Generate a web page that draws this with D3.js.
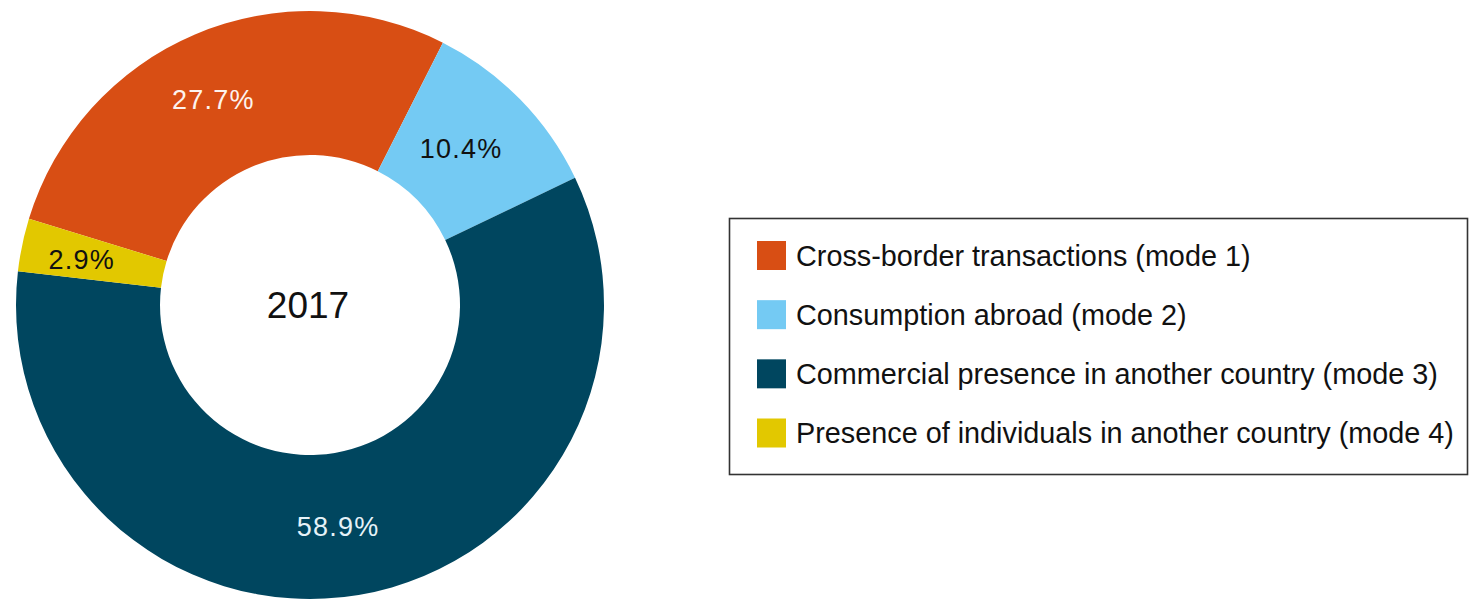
<!DOCTYPE html>
<html>
<head>
<meta charset="utf-8">
<script src="https://cdn.jsdelivr.net/npm/d3@7"></script>
<style>
  html, body { margin: 0; padding: 0; background: #ffffff; }
  svg { display: block; font-family: "Liberation Sans", Arial, Helvetica, sans-serif; }
</style>
</head>
<body>
<svg id="chart" width="1471" height="599"></svg>
<script>
// ---- data ----
const categories = [
  "Cross-border transactions (mode 1)",
  "Consumption abroad (mode 2)",
  "Commercial presence in another country (mode 3)",
  "Presence of individuals in another country (mode 4)"
];
const values = [27.7, 10.4, 58.9, 2.9];
const valueLabels = ["27.7%", "10.4%", "58.9%", "2.9%"];
const colors = ["#D84E14", "#74CAF3", "#00465F", "#E2C800"];
const labelColors = ["#fdf3ee", "#111111", "#e6f2f8", "#111111"];
const centerLabel = "2017";

// ---- layout ----
const svg = d3.select("#chart");
const cx = 310, cy = 305;
const outerR = 294, innerR = 150;
const start = -72.95 * Math.PI / 180;

const pie = d3.pie().sort(null).value(d => d.value)
  .startAngle(start).endAngle(start + 2 * Math.PI);
const arc = d3.arc().innerRadius(innerR).outerRadius(outerR);
const labelArc = d3.arc().innerRadius(224).outerRadius(224);

const data = categories.map((c, i) => ({ name: c, value: values[i], label: valueLabels[i], color: colors[i], lc: labelColors[i] }));
const arcs = pie(data);

const g = svg.append("g").attr("transform", `translate(${cx},${cy})`);
g.selectAll("path.slice").data(arcs).join("path")
  .attr("class", "slice")
  .attr("d", arc)
  .attr("fill", d => d.data.color);

g.selectAll("text.val").data(arcs).join("text")
  .attr("class", "val")
  .attr("transform", d => `translate(${labelArc.centroid(d)})`)
  .attr("text-anchor", "middle")
  .attr("dx", -9)
  .attr("dy", "0.36em")
  .attr("font-size", 27)
  .attr("letter-spacing", 1.2)
  .attr("fill", d => d.data.lc)
  .text(d => d.data.label);

g.append("text")
  .attr("text-anchor", "middle")
  .attr("x", -2)
  .attr("dy", "0.34em")
  .attr("font-size", 37)
  .attr("fill", "#111111")
  .text(centerLabel);

// ---- legend ----
const legend = svg.append("g");
legend.append("rect")
  .attr("x", 729.5).attr("y", 218.5)
  .attr("width", 738).attr("height", 256)
  .attr("fill", "none")
  .attr("stroke", "#333333")
  .attr("stroke-width", 1.6);

const rowY = d3.scalePoint().domain(categories).range([255.5, 433]);
const items = legend.selectAll("g.item").data(data).join("g")
  .attr("class", "item")
  .attr("transform", d => `translate(0,${rowY(d.name)})`);
items.append("rect")
  .attr("x", 757).attr("y", -14.5)
  .attr("width", 29).attr("height", 29)
  .attr("fill", d => d.color);
items.append("text")
  .attr("x", 796)
  .attr("dy", "0.36em")
  .attr("font-size", 28.8)
  .attr("fill", "#111111")
  .text(d => d.name);
</script>
</body>
</html>
